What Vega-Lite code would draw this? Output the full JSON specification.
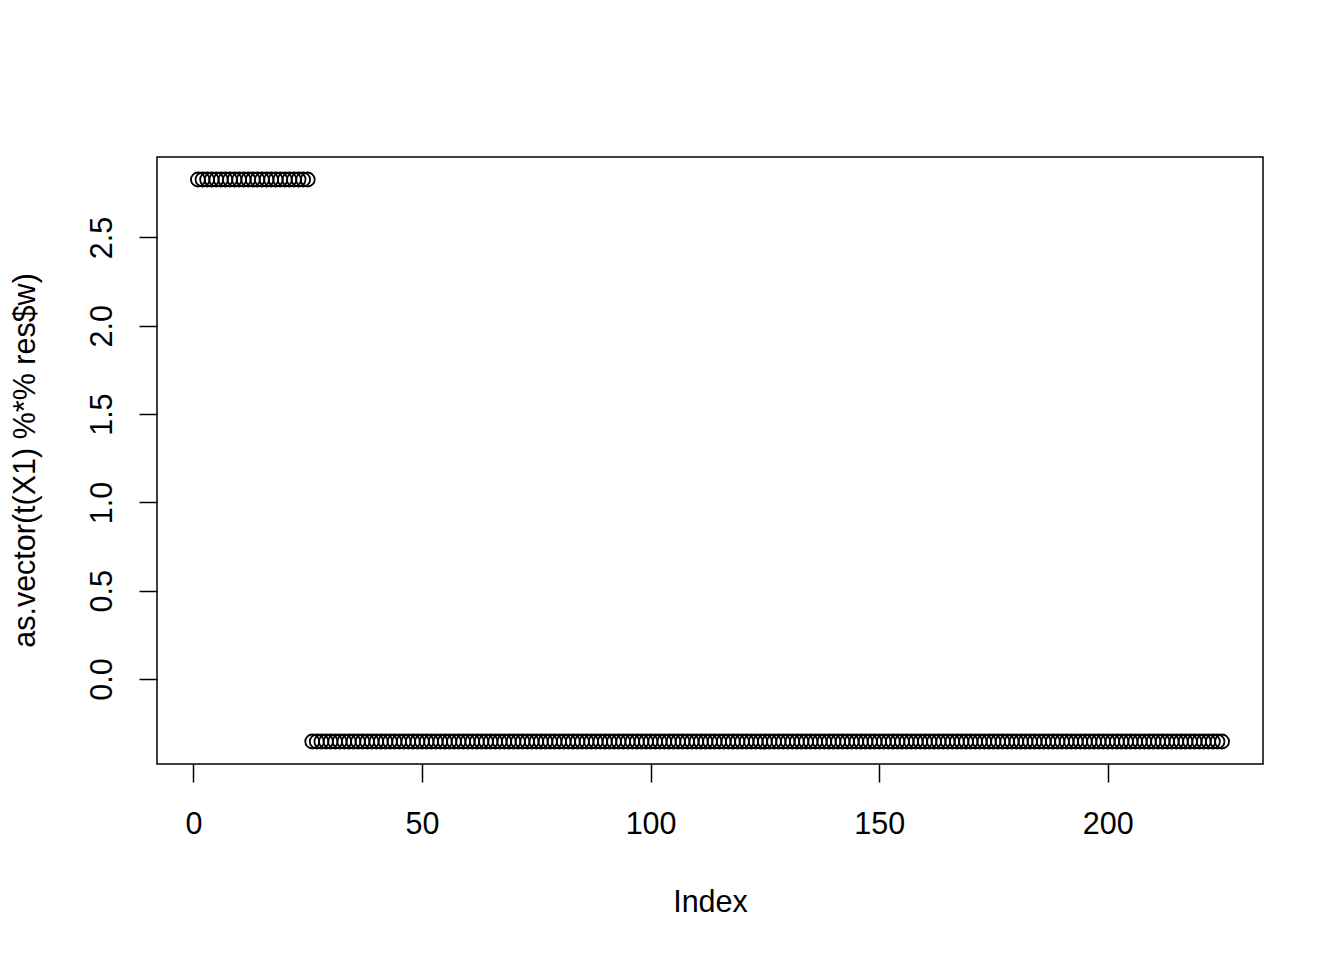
{
"$schema": "https://vega.github.io/schema/vega-lite/v6.json",
"width": 1106,
"height": 607,
"autosize": "none",
"padding": {"left": 157, "top": 157, "right": 81, "bottom": 196},
"background": "white",
"config": {"view": {"stroke": "black", "strokeWidth": 1.5}, "font": "Liberation Sans"},
"data": {"values": [
{"i":1,"v":2.828427},{"i":2,"v":2.828427},{"i":3,"v":2.828427},{"i":4,"v":2.828427},{"i":5,"v":2.828427},
{"i":6,"v":2.828427},{"i":7,"v":2.828427},{"i":8,"v":2.828427},{"i":9,"v":2.828427},{"i":10,"v":2.828427},
{"i":11,"v":2.828427},{"i":12,"v":2.828427},{"i":13,"v":2.828427},{"i":14,"v":2.828427},{"i":15,"v":2.828427},
{"i":16,"v":2.828427},{"i":17,"v":2.828427},{"i":18,"v":2.828427},{"i":19,"v":2.828427},{"i":20,"v":2.828427},
{"i":21,"v":2.828427},{"i":22,"v":2.828427},{"i":23,"v":2.828427},{"i":24,"v":2.828427},{"i":25,"v":2.828427},
{"i":26,"v":-0.353553},{"i":27,"v":-0.353553},{"i":28,"v":-0.353553},{"i":29,"v":-0.353553},{"i":30,"v":-0.353553},
{"i":31,"v":-0.353553},{"i":32,"v":-0.353553},{"i":33,"v":-0.353553},{"i":34,"v":-0.353553},{"i":35,"v":-0.353553},
{"i":36,"v":-0.353553},{"i":37,"v":-0.353553},{"i":38,"v":-0.353553},{"i":39,"v":-0.353553},{"i":40,"v":-0.353553},
{"i":41,"v":-0.353553},{"i":42,"v":-0.353553},{"i":43,"v":-0.353553},{"i":44,"v":-0.353553},{"i":45,"v":-0.353553},
{"i":46,"v":-0.353553},{"i":47,"v":-0.353553},{"i":48,"v":-0.353553},{"i":49,"v":-0.353553},{"i":50,"v":-0.353553},
{"i":51,"v":-0.353553},{"i":52,"v":-0.353553},{"i":53,"v":-0.353553},{"i":54,"v":-0.353553},{"i":55,"v":-0.353553},
{"i":56,"v":-0.353553},{"i":57,"v":-0.353553},{"i":58,"v":-0.353553},{"i":59,"v":-0.353553},{"i":60,"v":-0.353553},
{"i":61,"v":-0.353553},{"i":62,"v":-0.353553},{"i":63,"v":-0.353553},{"i":64,"v":-0.353553},{"i":65,"v":-0.353553},
{"i":66,"v":-0.353553},{"i":67,"v":-0.353553},{"i":68,"v":-0.353553},{"i":69,"v":-0.353553},{"i":70,"v":-0.353553},
{"i":71,"v":-0.353553},{"i":72,"v":-0.353553},{"i":73,"v":-0.353553},{"i":74,"v":-0.353553},{"i":75,"v":-0.353553},
{"i":76,"v":-0.353553},{"i":77,"v":-0.353553},{"i":78,"v":-0.353553},{"i":79,"v":-0.353553},{"i":80,"v":-0.353553},
{"i":81,"v":-0.353553},{"i":82,"v":-0.353553},{"i":83,"v":-0.353553},{"i":84,"v":-0.353553},{"i":85,"v":-0.353553},
{"i":86,"v":-0.353553},{"i":87,"v":-0.353553},{"i":88,"v":-0.353553},{"i":89,"v":-0.353553},{"i":90,"v":-0.353553},
{"i":91,"v":-0.353553},{"i":92,"v":-0.353553},{"i":93,"v":-0.353553},{"i":94,"v":-0.353553},{"i":95,"v":-0.353553},
{"i":96,"v":-0.353553},{"i":97,"v":-0.353553},{"i":98,"v":-0.353553},{"i":99,"v":-0.353553},{"i":100,"v":-0.353553},
{"i":101,"v":-0.353553},{"i":102,"v":-0.353553},{"i":103,"v":-0.353553},{"i":104,"v":-0.353553},{"i":105,"v":-0.353553},
{"i":106,"v":-0.353553},{"i":107,"v":-0.353553},{"i":108,"v":-0.353553},{"i":109,"v":-0.353553},{"i":110,"v":-0.353553},
{"i":111,"v":-0.353553},{"i":112,"v":-0.353553},{"i":113,"v":-0.353553},{"i":114,"v":-0.353553},{"i":115,"v":-0.353553},
{"i":116,"v":-0.353553},{"i":117,"v":-0.353553},{"i":118,"v":-0.353553},{"i":119,"v":-0.353553},{"i":120,"v":-0.353553},
{"i":121,"v":-0.353553},{"i":122,"v":-0.353553},{"i":123,"v":-0.353553},{"i":124,"v":-0.353553},{"i":125,"v":-0.353553},
{"i":126,"v":-0.353553},{"i":127,"v":-0.353553},{"i":128,"v":-0.353553},{"i":129,"v":-0.353553},{"i":130,"v":-0.353553},
{"i":131,"v":-0.353553},{"i":132,"v":-0.353553},{"i":133,"v":-0.353553},{"i":134,"v":-0.353553},{"i":135,"v":-0.353553},
{"i":136,"v":-0.353553},{"i":137,"v":-0.353553},{"i":138,"v":-0.353553},{"i":139,"v":-0.353553},{"i":140,"v":-0.353553},
{"i":141,"v":-0.353553},{"i":142,"v":-0.353553},{"i":143,"v":-0.353553},{"i":144,"v":-0.353553},{"i":145,"v":-0.353553},
{"i":146,"v":-0.353553},{"i":147,"v":-0.353553},{"i":148,"v":-0.353553},{"i":149,"v":-0.353553},{"i":150,"v":-0.353553},
{"i":151,"v":-0.353553},{"i":152,"v":-0.353553},{"i":153,"v":-0.353553},{"i":154,"v":-0.353553},{"i":155,"v":-0.353553},
{"i":156,"v":-0.353553},{"i":157,"v":-0.353553},{"i":158,"v":-0.353553},{"i":159,"v":-0.353553},{"i":160,"v":-0.353553},
{"i":161,"v":-0.353553},{"i":162,"v":-0.353553},{"i":163,"v":-0.353553},{"i":164,"v":-0.353553},{"i":165,"v":-0.353553},
{"i":166,"v":-0.353553},{"i":167,"v":-0.353553},{"i":168,"v":-0.353553},{"i":169,"v":-0.353553},{"i":170,"v":-0.353553},
{"i":171,"v":-0.353553},{"i":172,"v":-0.353553},{"i":173,"v":-0.353553},{"i":174,"v":-0.353553},{"i":175,"v":-0.353553},
{"i":176,"v":-0.353553},{"i":177,"v":-0.353553},{"i":178,"v":-0.353553},{"i":179,"v":-0.353553},{"i":180,"v":-0.353553},
{"i":181,"v":-0.353553},{"i":182,"v":-0.353553},{"i":183,"v":-0.353553},{"i":184,"v":-0.353553},{"i":185,"v":-0.353553},
{"i":186,"v":-0.353553},{"i":187,"v":-0.353553},{"i":188,"v":-0.353553},{"i":189,"v":-0.353553},{"i":190,"v":-0.353553},
{"i":191,"v":-0.353553},{"i":192,"v":-0.353553},{"i":193,"v":-0.353553},{"i":194,"v":-0.353553},{"i":195,"v":-0.353553},
{"i":196,"v":-0.353553},{"i":197,"v":-0.353553},{"i":198,"v":-0.353553},{"i":199,"v":-0.353553},{"i":200,"v":-0.353553},
{"i":201,"v":-0.353553},{"i":202,"v":-0.353553},{"i":203,"v":-0.353553},{"i":204,"v":-0.353553},{"i":205,"v":-0.353553},
{"i":206,"v":-0.353553},{"i":207,"v":-0.353553},{"i":208,"v":-0.353553},{"i":209,"v":-0.353553},{"i":210,"v":-0.353553},
{"i":211,"v":-0.353553},{"i":212,"v":-0.353553},{"i":213,"v":-0.353553},{"i":214,"v":-0.353553},{"i":215,"v":-0.353553},
{"i":216,"v":-0.353553},{"i":217,"v":-0.353553},{"i":218,"v":-0.353553},{"i":219,"v":-0.353553},{"i":220,"v":-0.353553},
{"i":221,"v":-0.353553},{"i":222,"v":-0.353553},{"i":223,"v":-0.353553},{"i":224,"v":-0.353553},{"i":225,"v":-0.353553}
]},
"mark": {"type": "point", "shape": "circle", "filled": false, "stroke": "black", "strokeWidth": 1.8, "size": 196, "opacity": 1},
"encoding": {
"x": {"field": "i", "type": "quantitative",
 "scale": {"domain": [-7.96, 233.96], "nice": false, "zero": false},
 "axis": {"values": [0, 50, 100, 150, 200], "grid": false, "domain": false, "tickColor": "black", "tickSize": 18, "tickWidth": 1.5,
  "labelFontSize": 30.5, "labelColor": "black", "labelPadding": 51, "labelBaseline": "alphabetic", "labelFlush": false, "labelOverlap": false,
  "title": "Index", "titleFontSize": 30.5, "titleFontWeight": "normal", "titleColor": "black", "titleY": 147, "titleBaseline": "alphabetic"}},
"y": {"field": "v", "type": "quantitative",
 "scale": {"domain": [-0.4808, 2.9557], "nice": false, "zero": false},
 "axis": {"values": [0, 0.5, 1, 1.5, 2, 2.5], "format": ".1f", "grid": false, "domain": false, "tickColor": "black", "tickSize": 18, "tickWidth": 1.5,
  "labelFontSize": 30.5, "labelColor": "black", "labelAngle": -90, "labelAlign": "center", "labelBaseline": "alphabetic", "labelPadding": 28, "labelFlush": false, "labelOverlap": false,
  "title": "as.vector(t(X1) %*% res$w)", "titleFontSize": 30.5, "titleFontWeight": "normal", "titleColor": "black", "titleAngle": -90, "titleX": -123, "titleY": 303, "titleAlign": "center", "titleBaseline": "alphabetic"}}
}
}
